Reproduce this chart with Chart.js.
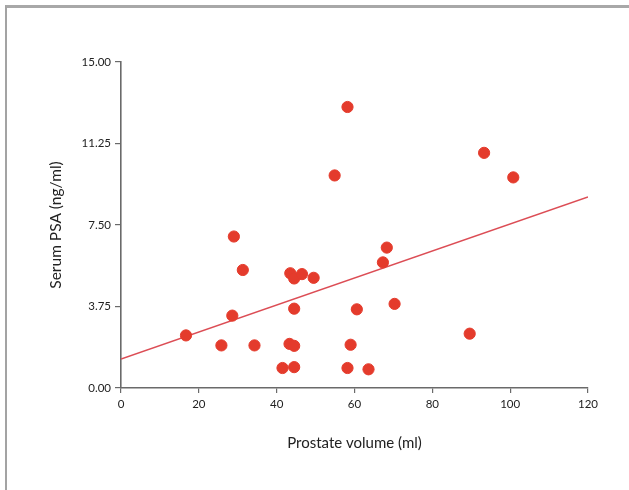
<!DOCTYPE html>
<html>
<head>
<meta charset="utf-8">
<script src="https://cdn.jsdelivr.net/npm/chart.js@4/dist/chart.umd.min.js"></script>
<style>
  html, body { margin: 0; padding: 0; background: #fff; }
  #wrap { position: relative; width: 629px; height: 490px; }
  #frame { position: absolute; left: 5px; top: 5px; right: 0; bottom: 0;
           border-left: 2px solid #a3a3a3; border-top: 3px solid #a8a8a8; pointer-events: none; }
  canvas { display: block; }
</style>
</head>
<body>
<div id="wrap">
  <canvas id="c" width="629" height="490"></canvas>
  <div id="frame"></div>
</div>
<script>
// Prostate volume (ml)
const volume = [16.7, 25.8, 28.6, 29.0, 31.3, 34.3, 41.5, 43.3, 43.5, 44.5, 44.5, 44.5, 44.5, 46.5, 49.5,
                54.9, 58.2, 58.2, 59.0, 60.6, 63.6, 67.3, 68.3, 70.3, 89.6, 93.3, 100.8];
// Serum PSA (ng/ml)
const psa    = [2.42, 1.96, 3.33, 6.97, 5.43, 1.96, 0.92, 2.03, 5.28, 5.04, 3.65, 1.94, 0.96, 5.24, 5.07,
                9.78, 12.93, 0.92, 1.99, 3.62, 0.86, 5.78, 6.46, 3.87, 2.50, 10.82, 9.69];
// Regression line end points
const fitX = [0, 120];
const fitY = [1.33, 8.79];
// Axis ticks
const yTicks = [0, 3.75, 7.5, 11.25, 15];
const xTicks = [0, 20, 40, 60, 80, 100, 120];

const pts = volume.map((v, i) => ({ x: v, y: psa[i] }));
const fit = fitX.map((v, i) => ({ x: v, y: fitY[i] }));

const axisColor = '#6a6a6a';
const fontFam = 'Lato, "Open Sans", sans-serif';

new Chart(document.getElementById('c'), {
  type: 'scatter',
  data: {
    datasets: [
      { type: 'line', data: fit, borderColor: '#dc4d55', borderWidth: 1.6, pointRadius: 0, fill: false, order: 2 },
      { data: pts, backgroundColor: '#e43b2c', borderColor: '#e43b2c', pointRadius: 5.6, borderWidth: 1, order: 1 }
    ]
  },
  options: {
    responsive: false,
    animation: false,
    layout: { padding: { top: 62, right: 41, bottom: 0, left: 0 } },
    plugins: { legend: { display: false }, tooltip: { enabled: false } },
    scales: {
      x: {
        type: 'linear', min: 0, max: 120,
        afterBuildTicks: s => { s.ticks = xTicks.map(v => ({ value: v })); },
        afterFit: s => { s.height = 102; },
        ticks: { color: '#222', font: { family: fontFam, size: 11.5 }, padding: 4, maxRotation: 0 },
        grid: { display: true, drawOnChartArea: false, tickLength: 5, color: axisColor, lineWidth: 1.2 },
        border: { display: true, color: axisColor, width: 1.6 },
        title: { display: true, text: 'Prostate volume (ml)', color: '#222',
                 font: { family: fontFam, size: 15 }, padding: { top: 0, bottom: 38 } }
      },
      y: {
        type: 'linear', min: 0, max: 15,
        afterBuildTicks: s => { s.ticks = yTicks.map(v => ({ value: v })); },
        afterFit: s => { s.width = 121; },
        ticks: { color: '#222', font: { family: fontFam, size: 11.5 }, padding: 4,
                 callback: v => Number(v).toFixed(2) },
        grid: { display: true, drawOnChartArea: false, tickLength: 6, color: axisColor, lineWidth: 1.2 },
        border: { display: true, color: axisColor, width: 1.6 },
        title: { display: true, text: 'Serum PSA (ng/ml)', color: '#222',
                 font: { family: fontFam, size: 15.5 }, padding: { top: 47, bottom: 0 } }
      }
    }
  }
});
</script>
</body>
</html>
